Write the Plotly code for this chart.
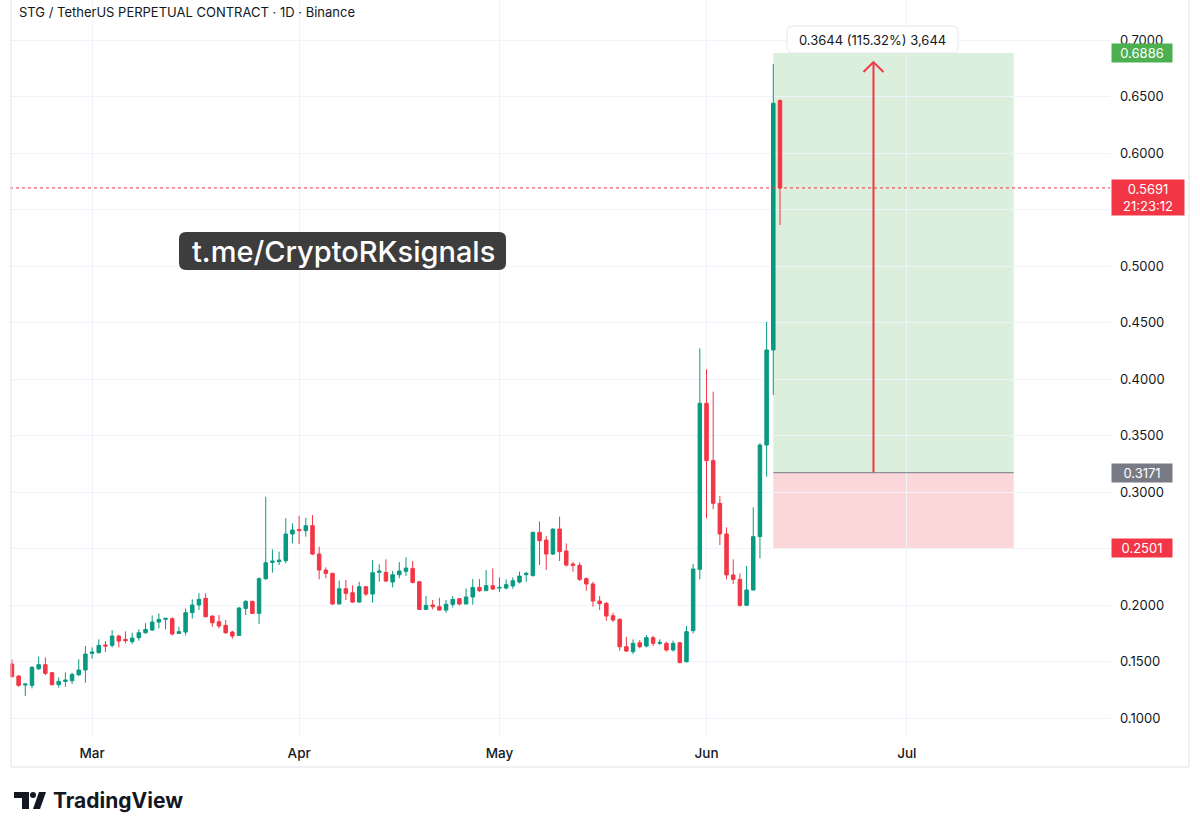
import pandas as pd
import plotly.graph_objects as go

# ---------------- data ----------------
dates = pd.date_range("2025-02-17", periods=116, freq="D")

opens = [0.1478, 0.1371, 0.1292, 0.1289, 0.1436, 0.1472, 0.1401, 0.1295, 0.1324, 0.1330,
         0.1383, 0.1425, 0.1572, 0.1578, 0.1646, 0.1643, 0.1725, 0.1696, 0.1675, 0.1711,
         0.1755, 0.1778, 0.1849, 0.1873, 0.1879, 0.1749, 0.1761, 0.1932, 0.2000, 0.2059,
         0.1902, 0.1852, 0.1820, 0.1761, 0.1731, 0.1970, 0.2032, 0.1926, 0.2233, 0.2377,
         0.2383, 0.2392, 0.2628, 0.2669, 0.2658, 0.2702, 0.2451, 0.2309, 0.2280, 0.2009,
         0.2144, 0.2109, 0.2026, 0.2162, 0.2097, 0.2289, 0.2289, 0.2203, 0.2268, 0.2298,
         0.2324, 0.2206, 0.1961, 0.2000, 0.1985, 0.1955, 0.2006, 0.2056, 0.2009, 0.2071,
         0.2156, 0.2127, 0.2171, 0.2150, 0.2150, 0.2168, 0.2203, 0.2268, 0.2262, 0.2643,
         0.2575, 0.2451, 0.2672, 0.2478, 0.2363, 0.2351, 0.2233, 0.2186, 0.2035, 0.2015,
         0.1905, 0.1873, 0.1631, 0.1587, 0.1666, 0.1637, 0.1711, 0.1661, 0.1661, 0.1602,
         0.1666, 0.1498, 0.1773, 0.2316, 0.3785, 0.3278, 0.2900, 0.2629, 0.2266, 0.2227,
         0.1997, 0.2133, 0.2605, 0.3416, 0.4257, 0.6464]
highs = [0.1519, 0.1380, 0.1301, 0.1460, 0.1543, 0.1537, 0.1407, 0.1360, 0.1404, 0.1401,
         0.1519, 0.1637, 0.1625, 0.1696, 0.1681, 0.1778, 0.1737, 0.1767, 0.1755, 0.1784,
         0.1838, 0.1908, 0.1926, 0.1882, 0.1891, 0.1808, 0.1970, 0.2050, 0.2103, 0.2103,
         0.1908, 0.1911, 0.1867, 0.1773, 0.1985, 0.2044, 0.2038, 0.2245, 0.2958, 0.2492,
         0.2472, 0.2767, 0.2723, 0.2790, 0.2770, 0.2796, 0.2516, 0.2333, 0.2286, 0.2215,
         0.2221, 0.2174, 0.2206, 0.2168, 0.2398, 0.2360, 0.2404, 0.2301, 0.2380, 0.2422,
         0.2389, 0.2212, 0.2079, 0.2044, 0.2065, 0.2044, 0.2079, 0.2062, 0.2147, 0.2230,
         0.2230, 0.2310, 0.2324, 0.2245, 0.2227, 0.2245, 0.2295, 0.2295, 0.2649, 0.2740,
         0.2610, 0.2678, 0.2782, 0.2545, 0.2383, 0.2377, 0.2245, 0.2206, 0.2079, 0.2026,
         0.1932, 0.1882, 0.1719, 0.1696, 0.1690, 0.1734, 0.1728, 0.1696, 0.1675, 0.1684,
         0.1675, 0.1814, 0.2363, 0.4272, 0.4086, 0.3888, 0.2965, 0.2688, 0.2404, 0.2280,
         0.2345, 0.2865, 0.3431, 0.4507, 0.6788, 0.6475]
lows = [0.1360, 0.1277, 0.1194, 0.1262, 0.1425, 0.1380, 0.1289, 0.1268, 0.1277, 0.1301,
        0.1371, 0.1312, 0.1525, 0.1572, 0.1584, 0.1625, 0.1625, 0.1661, 0.1655, 0.1684,
        0.1743, 0.1773, 0.1793, 0.1784, 0.1731, 0.1743, 0.1731, 0.1879, 0.1956, 0.1891,
        0.1808, 0.1793, 0.1743, 0.1702, 0.1725, 0.1911, 0.1920, 0.1832, 0.2221, 0.2286,
        0.2354, 0.2368, 0.2546, 0.2540, 0.2605, 0.2442, 0.2227, 0.2236, 0.2003, 0.2009,
        0.2044, 0.2020, 0.2020, 0.2079, 0.2020, 0.2206, 0.2206, 0.2156, 0.2236, 0.2256,
        0.2191, 0.1961, 0.1955, 0.1961, 0.1950, 0.1932, 0.1979, 0.1997, 0.2009, 0.2003,
        0.2115, 0.2127, 0.2133, 0.2115, 0.2138, 0.2144, 0.2191, 0.2206, 0.2250, 0.2354,
        0.2310, 0.2442, 0.2389, 0.2339, 0.2295, 0.2212, 0.2127, 0.1985, 0.1955, 0.1861,
        0.1849, 0.1596, 0.1584, 0.1566, 0.1616, 0.1625, 0.1637, 0.1646, 0.1587, 0.1587,
        0.1483, 0.1492, 0.1749, 0.2227, 0.2767, 0.2847, 0.2531, 0.2227, 0.2186, 0.1985,
        0.1997, 0.2127, 0.2413, 0.3136, 0.3859, 0.5363]
closes = [0.1366, 0.1289, 0.1301, 0.1448, 0.1472, 0.1395, 0.1295, 0.1324, 0.1336, 0.1386,
          0.1425, 0.1566, 0.1584, 0.1643, 0.1637, 0.1725, 0.1681, 0.1684, 0.1708, 0.1755,
          0.1784, 0.1849, 0.1873, 0.1882, 0.1743, 0.1764, 0.1932, 0.2000, 0.2050, 0.1896,
          0.1843, 0.1814, 0.1755, 0.1725, 0.1973, 0.2032, 0.1926, 0.2233, 0.2374, 0.2389,
          0.2398, 0.2628, 0.2664, 0.2658, 0.2702, 0.2451, 0.2309, 0.2280, 0.2009, 0.2144,
          0.2103, 0.2026, 0.2162, 0.2097, 0.2286, 0.2301, 0.2212, 0.2268, 0.2301, 0.2327,
          0.2200, 0.1961, 0.1997, 0.1985, 0.1955, 0.2006, 0.2050, 0.2009, 0.2071, 0.2156,
          0.2127, 0.2171, 0.2141, 0.2156, 0.2180, 0.2215, 0.2256, 0.2280, 0.2643, 0.2569,
          0.2451, 0.2672, 0.2472, 0.2354, 0.2351, 0.2227, 0.2186, 0.2035, 0.2012, 0.1902,
          0.1867, 0.1631, 0.1593, 0.1661, 0.1631, 0.1711, 0.1661, 0.1669, 0.1602, 0.1661,
          0.1492, 0.1764, 0.2318, 0.3785, 0.3278, 0.2900, 0.2629, 0.2266, 0.2227, 0.1997,
          0.2133, 0.2605, 0.3416, 0.4257, 0.6440, 0.5691]

month_ticks = ["2025-03-01", "2025-04-01", "2025-05-01", "2025-06-01", "2025-07-01"]
month_labels = ["Mar", "Apr", "May", "Jun", "Jul"]
price_ticks = [0.10, 0.15, 0.20, 0.25, 0.30, 0.35, 0.40, 0.45, 0.50, 0.55, 0.60, 0.65, 0.70]
price_labels = [f"{v:.4f}" for v in price_ticks]

title_text = "STG / TetherUS PERPETUAL CONTRACT · 1D · Binance"
watermark = "t.me/CryptoRKsignals"
last_price = 0.5691
countdown = "21:23:12"
entry_price = 0.3171
target_price = 0.6886
stop_price = 0.2501
pos_start = "2025-06-11"
pos_end = "2025-07-17"
arrow_x = "2025-06-26"
arrow_top = 0.6805
measure_text = "0.3644 (115.32%) 3,644"

# ---------------- style ----------------
UP = "#089981"
DOWN = "#F23645"
TXT = "#131722"
GRID = "#f0f3fa"
FONT = "Inter"
W, H = 1200, 832
ML, MR, MT, MB = 10, 90, 0, 95
PW, PH = W - ML - MR, H - MT - MB


def PX(x):
    return (x - ML) / PW


def PY(y):
    return (MT + PH - y) / PH


fig = go.Figure()
fig.add_trace(go.Candlestick(
    x=dates, open=opens, high=highs, low=lows, close=closes,
    increasing=dict(line=dict(color=UP, width=1), fillcolor=UP),
    decreasing=dict(line=dict(color=DOWN, width=1), fillcolor=DOWN),
    whiskerwidth=0, hoverinfo="skip", showlegend=False,
))

# measurement arrow
fig.add_trace(go.Scatter(x=[arrow_x, arrow_x], y=[entry_price, arrow_top], mode="lines",
                         line=dict(color=DOWN, width=2), hoverinfo="skip", showlegend=False))
ax = pd.Timestamp(arrow_x)
dx = pd.Timedelta(hours=36)
fig.add_trace(go.Scatter(x=[ax - dx, ax, ax + dx], y=[arrow_top - 0.0088, arrow_top, arrow_top - 0.0088],
                         mode="lines", line=dict(color=DOWN, width=2), hoverinfo="skip", showlegend=False))

shapes = []
# long position boxes
shapes.append(dict(type="rect", xref="x", yref="y", x0=pos_start, x1=pos_end, y0=entry_price, y1=target_price,
                   fillcolor="rgba(76,175,80,0.2)", line=dict(width=0), layer="below"))
shapes.append(dict(type="rect", xref="x", yref="y", x0=pos_start, x1=pos_end, y0=stop_price, y1=entry_price,
                   fillcolor="rgba(242,54,69,0.2)", line=dict(width=0), layer="below"))
shapes.append(dict(type="line", xref="x", yref="y", x0=pos_start, x1=pos_end, y0=entry_price, y1=entry_price,
                   line=dict(color="#787b86", width=1)))
# last price dotted line
shapes.append(dict(type="line", xref="paper", yref="y", x0=0, x1=1, y0=last_price, y1=last_price,
                   line=dict(color=DOWN, width=1, dash="dot")))
# panel borders
BC = "#e0e3eb"
shapes.append(dict(type="line", xref="paper", yref="paper", x0=PX(11), x1=PX(11), y0=PY(0), y1=PY(767),
                   line=dict(color=BC, width=1)))
shapes.append(dict(type="line", xref="paper", yref="paper", x0=PX(1189), x1=PX(1189), y0=PY(0), y1=PY(767),
                   line=dict(color=BC, width=1)))
shapes.append(dict(type="line", xref="paper", yref="paper", x0=PX(11), x1=PX(1189), y0=PY(767), y1=PY(767),
                   line=dict(color=BC, width=1)))

# watermark rounded box
x0, x1, y0, y1 = PX(179), PX(506), PY(270), PY(232)
rx, ry = 7 / PW, 7 / PH
path = (f"M {x0+rx},{y0} L {x1-rx},{y0} Q {x1},{y0} {x1},{y0+ry} L {x1},{y1-ry} Q {x1},{y1} {x1-rx},{y1} "
        f"L {x0+rx},{y1} Q {x0},{y1} {x0},{y1-ry} L {x0},{y0+ry} Q {x0},{y0} {x0+rx},{y0} Z")
shapes.append(dict(type="path", xref="paper", yref="paper", path=path,
                   fillcolor="rgba(45,45,45,0.92)", line=dict(width=0)))

# measurement label box (rounded, white with soft border)
mx0, mx1, my0, my1 = PX(787), PX(958), PY(53), PY(26)
mrx, mry = 6 / PW, 6 / PH
mpath = (f"M {mx0+mrx},{my0} L {mx1-mrx},{my0} Q {mx1},{my0} {mx1},{my0+mry} L {mx1},{my1-mry} "
         f"Q {mx1},{my1} {mx1-mrx},{my1} L {mx0+mrx},{my1} Q {mx0},{my1} {mx0},{my1-mry} "
         f"L {mx0},{my0+mry} Q {mx0},{my0} {mx0+mrx},{my0} Z")
shapes.append(dict(type="path", xref="paper", yref="paper", path=mpath,
                   fillcolor="white", line=dict(color="#e6e8ee", width=1)))

# TradingView logo icon
shapes.append(dict(type="rect", xref="paper", yref="paper", x0=PX(14), x1=PX(29), y0=PY(798), y1=PY(792),
                   fillcolor=TXT, line=dict(width=0)))
shapes.append(dict(type="rect", xref="paper", yref="paper", x0=PX(22), x1=PX(29), y0=PY(809), y1=PY(792),
                   fillcolor=TXT, line=dict(width=0)))
shapes.append(dict(type="circle", xref="paper", yref="paper", x0=PX(30), x1=PX(36), y0=PY(798), y1=PY(792),
                   fillcolor=TXT, line=dict(width=0)))
shapes.append(dict(type="path", xref="paper", yref="paper",
                   path=f"M {PX(33)},{PY(809)} L {PX(39)},{PY(792)} L {PX(46)},{PY(792)} L {PX(40)},{PY(809)} Z",
                   fillcolor=TXT, line=dict(width=0)))

annotations = []
annotations.append(dict(xref="paper", yref="paper", x=PX(17), y=PY(12), xanchor="left", yanchor="middle",
                        text=title_text, showarrow=False, font=dict(family=FONT, size=13, color=TXT)))
annotations.append(dict(xref="paper", yref="paper", x=PX(343), y=PY(251), xanchor="center", yanchor="middle",
                        text=watermark, showarrow=False,
                        font=dict(family=FONT, size=29, color="white", weight=500)))
annotations.append(dict(xref="paper", yref="paper", x=PX(51), y=PY(800), xanchor="left", yanchor="middle",
                        text="TradingView", showarrow=False,
                        font=dict(family=FONT, size=21, color=TXT, weight=700)))
annotations.append(dict(xref="paper", yref="paper", x=PX(872), y=PY(39.5), xanchor="center", yanchor="middle",
                        text=measure_text, showarrow=False,
                        font=dict(family=FONT, size=13, color=TXT)))


def price_tag(y, text, color, yanchor="middle", yshift=0, width=58):
    return dict(xref="paper", yref="y", x=PX(1111), y=y, xanchor="left", yanchor=yanchor, yshift=yshift,
                text=text, showarrow=False, bgcolor=color, borderpad=1, width=width, align="center",
                font=dict(family=FONT, size=13, color="white"))


annotations.append(price_tag(target_price, f"{target_price:.4f}", "#4caf50"))
annotations.append(price_tag(last_price, f"{last_price:.4f}<br>{countdown}", DOWN, yanchor="top", yshift=9,
                             width=70))
annotations.append(price_tag(entry_price, f"{entry_price:.4f}", "#787b86"))
annotations.append(price_tag(stop_price, f"{stop_price:.4f}", DOWN))

fig.update_layout(
    width=W, height=H, margin=dict(l=ML, r=MR, t=MT, b=MB),
    paper_bgcolor="white", plot_bgcolor="white",
    shapes=shapes, annotations=annotations, showlegend=False,
    xaxis=dict(type="date", range=["2025-02-16 17:00", "2025-07-31 10:00"], tickvals=month_ticks,
               ticktext=month_labels, showgrid=True, gridcolor=GRID, gridwidth=1, zeroline=False,
               showline=False, ticks="", rangeslider=dict(visible=False), ticklabelstandoff=6,
               tickfont=dict(family=FONT, size=13.5, color=TXT, weight=500), fixedrange=True),
    yaxis=dict(side="right", range=[0.0832, 0.7354], tickvals=price_ticks, ticktext=price_labels,
               showgrid=True, gridcolor=GRID, gridwidth=1, zeroline=False, showline=False, ticks="",
               ticklabelstandoff=9, tickfont=dict(family=FONT, size=13, color=TXT), fixedrange=True),
    font=dict(family=FONT, color=TXT),
    boxgap=0.25,
)

fig.write_html("out.html", config={"displayModeBar": False},
               post_script="document.body.style.margin='0';document.body.style.padding='0';")
